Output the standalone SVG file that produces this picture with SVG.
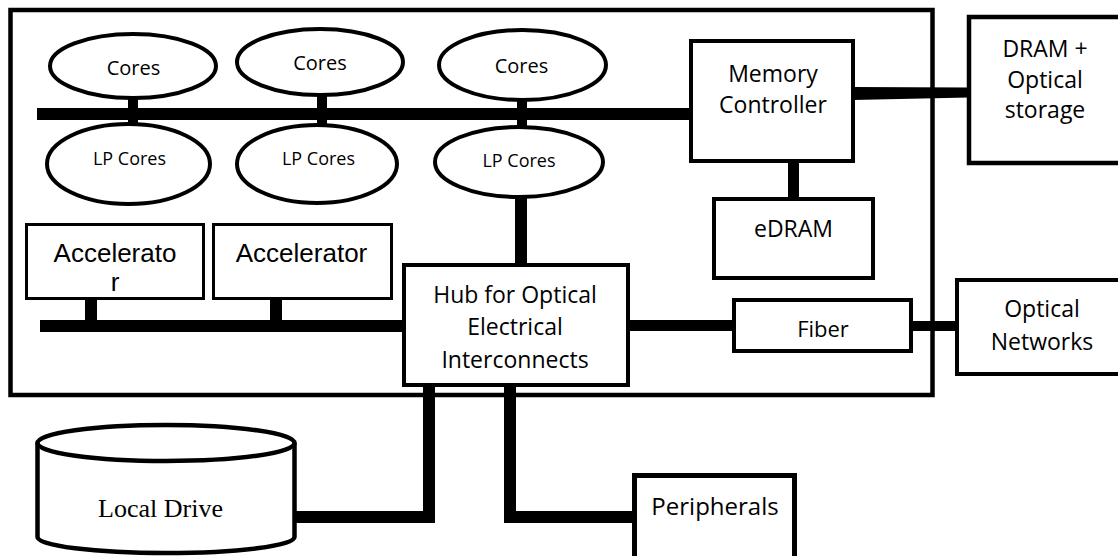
<svg xmlns="http://www.w3.org/2000/svg" width="1118" height="556" viewBox="0 0 1118 556">
<style>
.box{fill:#fff;stroke:#000;stroke-width:4}
.thin{fill:#fff;stroke:#000;stroke-width:3}
.bar{fill:#000;stroke:none}
.t{font-family:"Open Sans","Noto Sans",sans-serif;fill:#000;text-anchor:middle}
.a{font-family:"Liberation Sans",Arial,sans-serif;fill:#000;text-anchor:middle;font-size:26px}
.s{font-family:"Liberation Serif","Times New Roman",serif;fill:#000;text-anchor:middle;font-size:26px}
</style>
<rect width="1118" height="556" fill="#fff"/>
<g id="chip">
<rect x="10.5" y="10" width="922" height="385" fill="none" stroke="#000" stroke-width="4.5"/>
</g>
<g id="connectors">
<rect class="bar" x="37" y="108" width="654" height="12"/>
<rect class="bar" x="128" y="96" width="10" height="30"/>
<rect class="bar" x="317" y="93" width="10" height="33"/>
<rect class="bar" x="517" y="98" width="10" height="30"/>
<path class="bar" d="M853 87 L969 87.5 L969 97.5 L853 100 Z"/>
<rect class="bar" x="788" y="161" width="11" height="38"/>
<rect class="bar" x="40" y="320" width="364" height="12"/>
<rect class="bar" x="85" y="298" width="12" height="24"/>
<rect class="bar" x="270" y="298" width="12" height="24"/>
<rect class="bar" x="515" y="196" width="12" height="70"/>
<rect class="bar" x="628" y="320" width="106" height="11"/>
<rect class="bar" x="911" y="321" width="46" height="10"/>
<path class="bar" d="M423 385 H435 V523 H294 V511 H423 Z"/>
<path class="bar" d="M504 385 H516 V511 H636 V523 H504 Z"/>
</g>
<g id="cores1"><ellipse class="box" cx="133" cy="66" rx="83" ry="32"/><text class="t" x="133.5" y="75" font-size="20">Cores</text></g>
<g id="cores2"><ellipse class="box" cx="320" cy="62" rx="83" ry="33"/><text class="t" x="320" y="70" font-size="20">Cores</text></g>
<g id="cores3"><ellipse class="box" cx="522.5" cy="65" rx="83.5" ry="35"/><text class="t" x="521.5" y="73" font-size="20">Cores</text></g>
<g id="lpcores1"><ellipse class="box" cx="128.5" cy="164" rx="81.5" ry="40"/><text class="t" x="129.5" y="165" font-size="18">LP Cores</text></g>
<g id="lpcores2"><ellipse class="box" cx="317" cy="164" rx="80" ry="39"/><text class="t" x="318.5" y="165" font-size="18">LP Cores</text></g>
<g id="lpcores3"><ellipse class="box" cx="519" cy="162" rx="84" ry="35"/><text class="t" x="519" y="167" font-size="18">LP Cores</text></g>
<g id="memctrl"><rect class="box" x="691" y="41" width="162" height="120"/><text class="t" font-size="23" x="773" y="82">Memory</text><text class="t" font-size="23" x="773" y="113">Controller</text></g>
<g id="dram"><rect x="969" y="17" width="200" height="146" fill="#fff" stroke="#000" stroke-width="4.5"/><text class="t" font-size="23" x="1045" y="57">DRAM +</text><text class="t" font-size="23" x="1045" y="88">Optical</text><text class="t" font-size="23" x="1045" y="118">storage</text></g>
<g id="edram"><rect class="box" x="714" y="199" width="159" height="79"/><text class="t" font-size="23" x="793.5" y="237">eDRAM</text></g>
<g id="acc1"><rect class="thin" x="26.5" y="224.5" width="177" height="74"/><text class="a" x="115" y="262">Accelerato</text><text class="a" x="115" y="291">r</text></g>
<g id="acc2"><rect class="thin" x="213.5" y="224.5" width="178" height="74"/><text class="a" x="301.5" y="262">Accelerator</text></g>
<g id="hub"><rect class="box" x="404" y="265" width="224" height="120"/><text class="t" font-size="23" x="515" y="303">Hub for Optical</text><text class="t" font-size="23" x="515" y="335">Electrical</text><text class="t" font-size="23" x="515" y="368">Interconnects</text></g>
<g id="fiber"><rect class="box" x="734" y="300" width="177" height="51"/><text class="t" font-size="22" x="823" y="337">Fiber</text></g>
<g id="optnet"><rect class="box" x="957" y="280" width="200" height="94"/><text class="t" font-size="23" x="1042" y="317">Optical</text><text class="t" font-size="23" x="1042" y="350">Networks</text></g>
<g id="localdrive"><path d="M37.5 443 V537 A128.5 16 0 0 0 294.5 537 V443" fill="#fff" stroke="#000" stroke-width="4.5"/><ellipse cx="166" cy="443" rx="128.5" ry="18" fill="#fff" stroke="#000" stroke-width="4.5"/><text class="s" x="160.5" y="517">Local Drive</text></g>
<g id="peripherals"><rect x="634.5" y="475.5" width="160" height="90" fill="#fff" stroke="#000" stroke-width="5"/><text class="t" font-size="24" x="715" y="515">Peripherals</text></g>
</svg>
